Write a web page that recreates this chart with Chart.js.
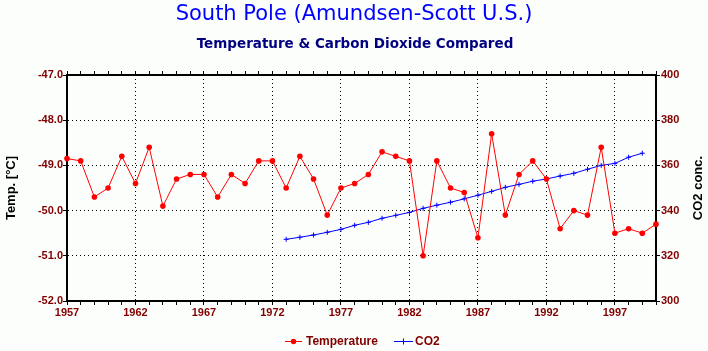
<!DOCTYPE html>
<html>
<head>
<meta charset="utf-8">
<script src="https://cdn.jsdelivr.net/npm/chart.js@4/dist/chart.umd.min.js"></script>
<style>
  html, body { margin: 0; padding: 0; background: #fcfefc; }
  #wrap { width: 708px; height: 351px; }
</style>
</head>
<body>
<div id="wrap"><canvas id="poleChart" width="708" height="351"></canvas></div>
<script>
// data
var years = [1957, 1958, 1959, 1960, 1961, 1962, 1963, 1964, 1965, 1966, 1967, 1968, 1969,
    1970, 1971, 1972, 1973, 1974, 1975, 1976, 1977, 1978, 1979,
    1980, 1981, 1982, 1983, 1984, 1985, 1986, 1987, 1988, 1989,
    1990, 1991, 1992, 1993, 1994, 1995, 1996, 1997, 1998, 1999, 2000];
var temperatura = [-48.85, -48.9, -49.7, -49.5, -48.8, -49.4, -48.6, -49.9, -49.3, -49.2, -49.2, -49.7, -49.2,
    -49.4, -48.9, -48.9, -49.5, -48.8, -49.3, -50.1, -49.5, -49.4, -49.2,
    -48.7, -48.8, -48.9, -51.0, -48.9, -49.5, -49.6, -50.6, -48.3, -50.1,
    -49.2, -48.9, -49.3, -50.4, -50.0, -50.1, -48.6, -50.5, -50.4, -50.5, -50.3];
var co2 = [null, null, null, null, null, null, null, null, null, null, null, null, null,
    null, null, null, 327.3, 328.2, 329.2, 330.4, 331.7, 333.5, 334.8,
    336.6, 337.9, 339.2, 341.0, 342.4, 343.7, 345.2, 346.8, 348.5, 350.3,
    351.6, 353.0, 354.0, 355.3, 356.5, 358.3, 360.0, 360.9, 363.6, 365.4, null];
var tempTicks = [-52, -47, 1];   // min, max, step
var co2Ticks = [300, 400, 20];

var maroon = '#800000';
var tickFont = { family: 'Liberation Sans, Arial, sans-serif', size: 11, weight: 'bold' };

// titles, right axis title and legend
var textos = {
    id: 'textos',
    afterDraw: function (chart) {
        var c = chart.ctx;
        var area = chart.chartArea;
        c.save();
        c.textAlign = 'center';
        c.textBaseline = 'alphabetic';
        c.fillStyle = '#0000ff';
        c.font = '21px "Comic Sans MS", "DejaVu Sans", sans-serif';
        c.fillText('South Pole (Amundsen-Scott U.S.)', 354, 20);
        c.fillStyle = '#000080';
        c.font = 'bold 13.5px "Comic Sans MS", "DejaVu Sans", sans-serif';
        c.fillText('Temperature & Carbon Dioxide Compared', 355, 48);

        c.save();
        c.translate(698, (area.top + area.bottom) / 2);
        c.rotate(-Math.PI / 2);
        c.fillStyle = '#000000';
        c.font = 'bold 13px "Liberation Sans", Arial, sans-serif';
        c.textBaseline = 'middle';
        c.fillText('CO2 conc.', 0, 0);
        c.restore();

        // legend
        var ly = 341;
        c.lineWidth = 1;
        c.strokeStyle = '#ff0000';
        c.beginPath(); c.moveTo(285, ly + 0.5); c.lineTo(302, ly + 0.5); c.stroke();
        c.fillStyle = '#ff0000';
        c.beginPath(); c.arc(293.5, ly + 0.5, 2.7, 0, Math.PI * 2); c.fill();
        c.strokeStyle = '#0000ff';
        c.beginPath(); c.moveTo(394, ly + 0.5); c.lineTo(413, ly + 0.5);
        c.moveTo(403.5, ly - 2.5); c.lineTo(403.5, ly + 3.5); c.stroke();
        c.fillStyle = maroon;
        c.font = 'bold 12px "Liberation Sans", Arial, sans-serif';
        c.textAlign = 'left';
        c.textBaseline = 'middle';
        c.fillText('Temperature', 306, ly + 1);
        c.fillText('CO2', 415, ly + 1);
        c.restore();
    }
};

var ctx = document.getElementById('poleChart').getContext('2d');
var poleChart = new Chart(ctx, {
    type: 'line',
    data: {
        labels: years,
        datasets: [{
            label: 'Temperature',
            data: temperatura,
            yAxisID: 'y',
            borderColor: '#ff0000',
            backgroundColor: '#ff0000',
            borderWidth: 1,
            pointRadius: 2.8,
            pointBorderWidth: 0,
            tension: 0
        }, {
            label: 'CO2',
            data: co2,
            yAxisID: 'y2',
            borderColor: '#0000ff',
            backgroundColor: '#0000ff',
            borderWidth: 1,
            pointStyle: 'cross',
            pointRadius: 2.5,
            pointBorderWidth: 1,
            tension: 0
        }]
    },
    options: {
        responsive: false,
        animation: false,
        layout: { padding: { top: 71, bottom: 28, left: 0, right: 0 } },
        plugins: {
            legend: { display: false },
            title: { display: false },
            tooltip: { enabled: false }
        },
        scales: {
            x: {
                type: 'category',
                position: 'bottom',
                offset: false,
                border: { display: true, color: '#000', width: 2, dash: [1, 3] },
                grid: {
                    // dotted grid only on the labelled years
                    color: function (c) {
                        var ano = years[c.index];
                        return ano !== undefined && (ano - years[0]) % 5 === 0 ? '#000' : 'transparent';
                    },
                    tickColor: '#000',
                    tickLength: 4,
                    lineWidth: 1
                },
                ticks: {
                    autoSkip: false,
                    maxRotation: 0,
                    padding: 1,
                    color: maroon,
                    font: tickFont,
                    callback: function (v, i) {
                        var ano = years[i];
                        return (ano - years[0]) % 5 === 0 ? String(ano) : '';
                    }
                },
                afterFit: function (s) { s.height = 22; }
            },
            x2: {
                type: 'category',
                position: 'top',
                offset: false,
                border: { display: true, color: '#000', width: 2 },
                grid: { drawOnChartArea: false, tickColor: '#000', tickLength: 4 },
                ticks: { display: false, autoSkip: false },
                afterFit: function (s) { s.height = 4; }
            },
            y: {
                position: 'left',
                min: tempTicks[0],
                max: tempTicks[1],
                border: { display: true, color: '#000', width: 2, dash: [1, 3] },
                grid: { color: '#000', tickColor: '#000', tickLength: 4, lineWidth: 1 },
                ticks: {
                    stepSize: tempTicks[2],
                    padding: 0,
                    color: maroon,
                    font: tickFont,
                    callback: function (v) { return v.toFixed(1); }
                },
                title: {
                    display: true,
                    text: 'Temp. [°C]',
                    color: '#000',
                    font: { family: 'Liberation Sans, Arial, sans-serif', size: 13, weight: 'bold' },
                    padding: { top: 4, bottom: 0 }
                },
                afterFit: function (s) { s.width = 67; }
            },
            y2: {
                position: 'right',
                min: co2Ticks[0],
                max: co2Ticks[1],
                border: { display: true, color: '#000', width: 2 },
                grid: { drawOnChartArea: false, tickColor: '#000', tickLength: 4 },
                ticks: {
                    stepSize: co2Ticks[2],
                    padding: 1,
                    color: maroon,
                    font: tickFont
                },
                afterFit: function (s) { s.width = 52; }
            }
        }
    },
    plugins: [textos]
});
</script>
</body>
</html>
